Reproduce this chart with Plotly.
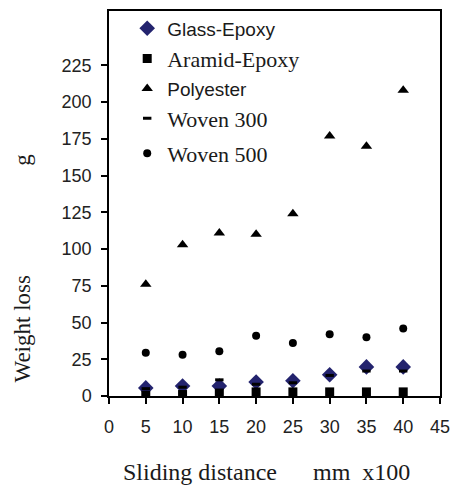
import plotly.graph_objects as go

# Sliding distance (mm x100) and measured weight loss (g)
distance = [5, 10, 15, 20, 25, 30, 35, 40]
glass_epoxy = [5.5, 6.8, 6.8, 9.5, 10.4, 14.5, 19.8, 19.8]
aramid_epoxy = [0.5, 1.0, 2.0, 2.8, 2.8, 2.8, 2.8, 2.8]
polyester = [76, 103, 111, 110, 124, 177, 170, 208]
woven_300 = [5, 6, 11, 8, 9, 14, 17, 17]
woven_500 = [29.5, 28, 30.5, 41, 36, 42, 40, 46]

y_ticks = [0, 25, 50, 75, 100, 125, 150, 175, 200, 225]
x_ticks = [0, 5, 10, 15, 20, 25, 30, 35, 40, 45]

SERIF = "Liberation Serif"
SANS = "Liberation Sans"
SANS_LEGEND = dict(family=SANS, size=19)
SERIF_LEGEND = dict(family="serif", size=22)


def serif_name(txt):
    return f"<span style=\"font-family:{SERIF}\">{txt}</span>"


# name, values, marker, legend font, legend row position (paper y)
series = [
    ("Glass-Epoxy", glass_epoxy, dict(symbol="diamond", size=12, color="#23236e"),
     SANS_LEGEND, 0.955),
    (serif_name("Aramid-Epoxy"), aramid_epoxy, dict(symbol="square", size=9, color="#000000"),
     SERIF_LEGEND, 0.876),
    ("Polyester", polyester, dict(symbol="triangle-up", size=10, color="#000000"),
     SANS_LEGEND, 0.798),
    (serif_name("Woven 300"), woven_300,
     dict(symbol="line-ew", size=6, color="#000000", line=dict(width=3, color="#000000")),
     SERIF_LEGEND, 0.721),
    (serif_name("Woven 500"), woven_500, dict(symbol="circle", size=8, color="#000000"),
     SERIF_LEGEND, 0.630),
]

fig = go.Figure()
legend_layout = {}
for i, (name, vals, marker, lfont, ly) in enumerate(series):
    key = "legend" if i == 0 else f"legend{i + 1}"
    fig.add_trace(go.Scatter(
        x=distance, y=vals, mode="markers", name=name,
        legend=key, marker=marker,
    ))
    legend_layout[key] = dict(
        x=0.055, y=ly, xanchor="left", yanchor="middle",
        bgcolor="rgba(0,0,0,0)", borderwidth=0,
        font=dict(color="#1a1a1a", **lfont),
    )

axis_common = dict(
    showgrid=False, zeroline=False, showline=True, linecolor="black",
    linewidth=1.5, mirror=True, ticks="outside", ticklen=6, tickwidth=1.5,
    tickcolor="black", tickfont=dict(family=SANS, size=18, color="#222222"),
)

fig.update_xaxes(range=[0, 45], tickvals=x_ticks, ticklabelstandoff=8, **axis_common)
fig.update_yaxes(range=[0, 262], tickvals=y_ticks, ticklabelstandoff=6, **axis_common)

fig.add_annotation(
    text="Sliding distance" + "\u00a0" * 6 + "mm\u00a0\u00a0x100",
    xref="paper", yref="paper", x=0.475, y=-0.197,
    xanchor="center", yanchor="middle",
    showarrow=False, font=dict(family=SERIF, size=24, color="#1a1a1a"),
)
fig.add_annotation(
    text="Weight loss" + "\u00a0" * 19 + "g",
    xref="paper", yref="paper", x=-0.262, y=0.332,
    xanchor="center", yanchor="middle", textangle=-90,
    showarrow=False, font=dict(family=SERIF, size=23, color="#1a1a1a"),
)

fig.update_layout(
    width=459, height=488,
    margin=dict(l=109, r=9, t=10, b=92),
    paper_bgcolor="white", plot_bgcolor="white",
    showlegend=True,
    **legend_layout,
)

fig.write_html("out.html")
